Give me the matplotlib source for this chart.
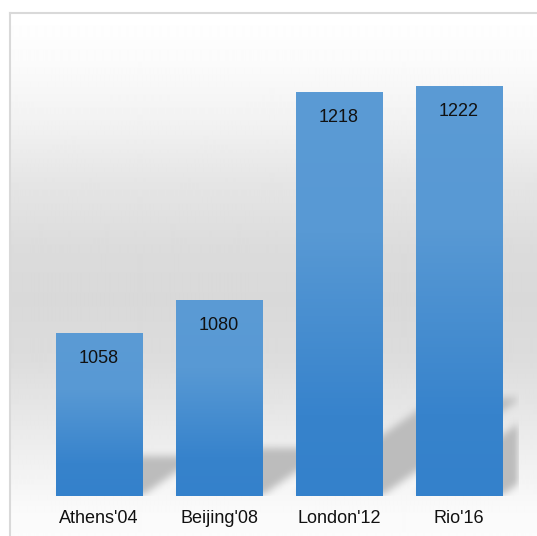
import numpy as np
import matplotlib.pyplot as plt
from matplotlib.colors import LinearSegmentedColormap
from matplotlib.lines import Line2D

games = ["Athens'04", "Beijing'08", "London'12", "Rio'16"]
medals = [1058, 1080, 1218, 1222]

y_min, y_max = 950, 1250

plt.rcParams['font.family'] = ['Liberation Sans', 'DejaVu Sans']

W, H = 537, 536
fig = plt.figure(figsize=(W / 100, H / 100), dpi=100)

# grey gradient panel behind the chart
bg = fig.add_axes([9 / W, 0, 1 - 9 / W, (H - 13) / H])
stops_y = np.array([13, 60, 120, 180, 250, 300, 360, 420, 470, 510, 536])
stops_v = np.array([1.0, .985, .95, .9, .86, .85, .865, .91, .95, .98, .985])
grad = np.interp(np.arange(13, H), stops_y, stops_v)
bg.imshow(np.repeat(grad[:, None], 2, axis=1), cmap='gray', vmin=0, vmax=1,
          aspect='auto', interpolation='bilinear')
bg.axis('off')

# light border (left + top)
fig.add_artist(Line2D([9.5 / W, 9.5 / W], [0, (H - 12.5) / H], color='#d9d9d9', lw=1.5))
fig.add_artist(Line2D([9.5 / W, 1], [(H - 12.5) / H] * 2, color='#d9d9d9', lw=1.5))

ax = fig.add_axes([39 / W, 40 / H, 480 / W, 452 / H])
ax.patch.set_alpha(0)
for s in ax.spines.values():
    s.set_visible(False)

x = np.arange(len(games))
bw = 0.717

# perspective shadow, skewed to upper right and blurred
nx, ny = 480, 452
XX, YY = np.meshgrid(np.linspace(-0.5, 3.5, nx), np.linspace(y_min, y_max, ny))
mask = np.zeros_like(XX)
px_per_unit = ny / (y_max - y_min)
for xi, v in zip(x, medals):
    h = v - y_min
    dy = 0.243 * h
    dx = 0.347 * h * px_per_unit / 120
    t = (YY - y_min) / dy
    inside = (t >= 0) & (t <= 1) & (XX >= xi - bw / 2 + t * dx) & (XX <= xi + bw / 2 + t * dx)
    mask[inside] = 1

k = np.ones(9) / 9
for _ in range(2):
    mask = np.apply_along_axis(lambda r: np.convolve(r, k, mode='same'), 1, mask)
    mask = np.apply_along_axis(lambda c: np.convolve(c, k, mode='same'), 0, mask)

shadow = np.zeros((ny, nx, 4))
shadow[..., :3] = 0.74
shadow[..., 3] = mask
ax.imshow(shadow, extent=[-0.5, 3.5, y_min, y_max], origin='lower', aspect='auto', zorder=1)

# bars with vertical gradient
bar_cmap = LinearSegmentedColormap.from_list(
    'bar', [(0, '#3481cb'), (0.2, '#3783cc'), (0.65, '#5899d4'), (1, '#5b9bd5')])
ramp = np.linspace(0, 1, 256)[:, None]
for xi, v in zip(x, medals):
    ax.imshow(ramp, cmap=bar_cmap, extent=[xi - bw / 2, xi + bw / 2, y_min, v],
              origin='lower', aspect='auto', zorder=2)
    ax.annotate(str(v), (xi, v), xytext=(0, -18), textcoords='offset points',
                ha='center', va='center', fontsize=13, color='#111111', zorder=3)

ax.set_xlim(-0.5, 3.5)
ax.set_ylim(y_min, y_max)
ax.set_xticks(x, games)
ax.set_yticks([])
ax.tick_params(axis='x', length=0, pad=10, labelsize=13, labelcolor='#111111')

fig.savefig('out.png', dpi=100)
